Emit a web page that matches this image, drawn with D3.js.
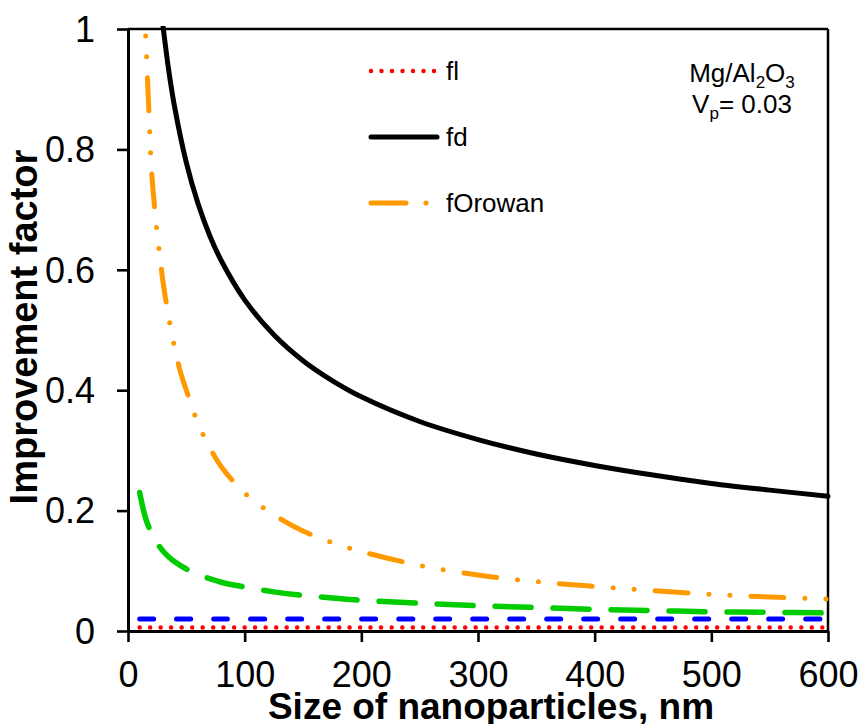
<!DOCTYPE html>
<meta charset="utf-8">
<head>
  <title>Improvement factor vs nanoparticle size</title>
  <style>
    body { margin: 0; background: #fff; }
    text { font-family: "Liberation Sans", Arial, sans-serif; fill: #000; }
  </style>
</head>

<body>
  <svg width="861" height="724"></svg>

  <script src="https://cdnjs.cloudflare.com/ajax/libs/d3/7.8.5/d3.min.js"></script>
  <script>
// sizes of nanoparticles (nm) shared by fl, blue and green curves
var sizes = [10, 15, 20, 25, 30, 35, 40, 50, 60, 70, 80, 100, 125, 150, 175, 200, 250, 300, 350, 400, 450, 500, 550, 600];
var fl    = [0.006, 0.006, 0.006, 0.006, 0.006, 0.006, 0.006, 0.006, 0.006, 0.006, 0.006, 0.006, 0.006, 0.006, 0.006, 0.006, 0.006, 0.006, 0.006, 0.006, 0.006, 0.006, 0.006, 0.006];
var fBlue = [0.020, 0.020, 0.020, 0.020, 0.020, 0.020, 0.020, 0.020, 0.020, 0.020, 0.020, 0.020, 0.020, 0.020, 0.020, 0.020, 0.020, 0.020, 0.020, 0.020, 0.020, 0.020, 0.020, 0.020];
var fGreen = [0.230, 0.188, 0.163, 0.146, 0.133, 0.123, 0.115, 0.103, 0.094, 0.087, 0.081, 0.073, 0.065, 0.059, 0.055, 0.051, 0.046, 0.042, 0.039, 0.036, 0.034, 0.032, 0.031, 0.030];

var sizesD = [30, 35, 40, 50, 60, 70, 80, 100, 125, 150, 175, 200, 250, 300, 350, 400, 450, 500, 550, 600];
var fd     = [1.005, 0.93, 0.87, 0.778, 0.71, 0.657, 0.615, 0.55, 0.492, 0.449, 0.416, 0.389, 0.348, 0.318, 0.294, 0.275, 0.259, 0.245, 0.234, 0.224];

var sizesOrowan = [14, 15, 16, 18, 20, 22.5, 25, 27.5, 30, 35, 40, 45, 50, 60, 70, 80, 100, 125, 150, 175, 200, 250, 300, 350, 400, 450, 500, 550, 600];
var fOrowan     = [1.06, 1.0, 0.95, 0.86, 0.77, 0.71, 0.66, 0.62, 0.58, 0.52, 0.47, 0.43, 0.40, 0.345, 0.305, 0.273, 0.229, 0.193, 0.166, 0.147, 0.132, 0.109, 0.093, 0.082, 0.074, 0.067, 0.061, 0.0565, 0.053];

var xTicks = [0, 100, 200, 300, 400, 500, 600];
var yTicks = [0, 0.2, 0.4, 0.6, 0.8, 1];

var svg = d3.select('svg');
var plotL = 128, plotR = 828, plotT = 29, plotB = 631;

var xScale = d3.scaleLinear().domain([0, 600]).range([plotL, plotR]);
var yScale = d3.scaleLinear().domain([0, 1]).range([plotB, plotT]);

svg.append('clipPath').attr('id', 'plot')
  .append('rect')
  .attr('x', plotL).attr('y', plotT - 3)
  .attr('width', plotR - plotL + 3).attr('height', plotB - plotT + 3);

// frame: top and right borders
svg.append('line').attr('x1', plotL).attr('x2', plotR).attr('y1', plotT).attr('y2', plotT)
  .style('stroke', '#000').style('stroke-width', 2.7);
svg.append('line').attr('x1', plotR).attr('x2', plotR).attr('y1', plotT).attr('y2', plotB)
  .style('stroke', '#000').style('stroke-width', 2.5);

var xAxis = svg.append('g')
  .attr('transform', 'translate(0,' + plotB + ')')
  .call(d3.axisBottom(xScale).tickValues(xTicks).tickSize(11).tickSizeOuter(0).tickFormat(d3.format('d')));
xAxis.selectAll('text').attr('y', 56).attr('dy', 0).style('font-size', '36px');

var yAxis = svg.append('g')
  .attr('transform', 'translate(' + plotL + ',0)')
  .call(d3.axisLeft(yScale).tickValues(yTicks).tickSize(11).tickSizeOuter(0).tickFormat(function(d) { return String(d); }));
yAxis.selectAll('text').attr('x', -33).attr('dy', '0.34em').style('font-size', '36px');

svg.selectAll('.domain').style('stroke', '#000').style('stroke-width', 3);
svg.selectAll('.tick line').style('stroke', '#000').style('stroke-width', 2.6);
svg.selectAll('.tick text').attr('font-family', null);

// axis titles
svg.append('text')
  .attr('x', 491).attr('y', 719)
  .attr('text-anchor', 'middle')
  .style('font-size', '37px').style('font-weight', 'bold')
  .text('Size of nanoparticles, nm');

svg.append('text')
  .attr('transform', 'translate(37,327) rotate(-90)')
  .attr('text-anchor', 'middle')
  .style('font-size', '38px').style('font-weight', 'bold')
  .text('Improvement factor');

function line(xs) {
  return d3.line()
    .x(function(d, i) { return xScale(xs[i]); })
    .y(function(d) { return yScale(d); })
    .curve(d3.curveCatmullRom.alpha(0.5));
}

var series = [
  {xs: sizes, ys: fGreen, color: '#00cc00', width: 5.5, dash: '36,22', offset: 0},
  {xs: sizes, ys: fBlue, color: '#0000ff', width: 5, dash: '14,23', offset: 0},
  {xs: sizes, ys: fl, color: '#ff0000', width: 4.5, dash: '0,10.5', offset: 0},
  {xs: sizesOrowan, ys: fOrowan, color: '#ff9900', width: 5, dash: '33,21,0,21,0,21', offset: 11},
  {xs: sizesD, ys: fd, color: '#000000', width: 5, dash: null, offset: 0}
];

svg.append('g')
  .attr('clip-path', 'url(#plot)')
  .selectAll('path')
  .data(series)
  .enter()
  .append('path')
  .attr('d', function(s) { return line(s.xs)(s.ys); })
  .attr('fill', 'none')
  .attr('stroke', function(s) { return s.color; })
  .attr('stroke-width', function(s) { return s.width; })
  .attr('stroke-dasharray', function(s) { return s.dash; })
  .attr('stroke-dashoffset', function(s) { return s.offset; })
  .attr('stroke-linecap', 'round');

// legend
var legend = [
  {name: 'fl', color: '#ff0000', width: 4.5, dash: '0,10.5', y: 71, x2: 437},
  {name: 'fd', color: '#000000', width: 5, dash: null, y: 137, x2: 437},
  {name: 'fOrowan', color: '#ff9900', width: 5, dash: '35,20,0,20,0,20', y: 203, x2: 431}
];

var lg = svg.append('g');
lg.selectAll('line')
  .data(legend)
  .enter()
  .append('line')
  .attr('x1', 371).attr('x2', function(d) { return d.x2; })
  .attr('y1', function(d) { return d.y; }).attr('y2', function(d) { return d.y; })
  .attr('stroke', function(d) { return d.color; })
  .attr('stroke-width', function(d) { return d.width; })
  .attr('stroke-dasharray', function(d) { return d.dash; })
  .attr('stroke-linecap', 'round');
lg.selectAll('text')
  .data(legend)
  .enter()
  .append('text')
  .attr('x', 446).attr('y', function(d) { return d.y + 8.5; })
  .style('font-size', '26px')
  .text(function(d) { return d.name; });

// material note
var note = svg.append('text').attr('text-anchor', 'middle').style('font-size', '26px');
var l1 = note.append('tspan').attr('x', 742).attr('y', 82);
l1.append('tspan').text('Mg/Al');
l1.append('tspan').attr('dy', 6).style('font-size', '17px').text('2');
l1.append('tspan').attr('dy', -6).text('O');
l1.append('tspan').attr('dy', 6).style('font-size', '17px').text('3');
var l2 = note.append('tspan').attr('x', 742).attr('y', 113);
l2.append('tspan').text('V');
l2.append('tspan').attr('dy', 6).style('font-size', '17px').text('p');
l2.append('tspan').attr('dy', -6).text('= 0.03');
  </script>
</body>
</html>
